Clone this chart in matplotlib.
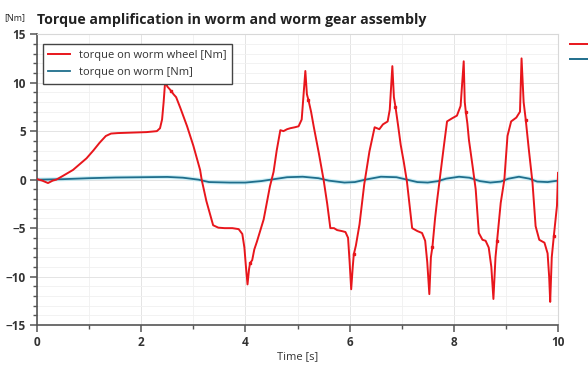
import matplotlib.pyplot as plt
from matplotlib.lines import Line2D
from matplotlib.ticker import MultipleLocator
import numpy as np

# torque on worm wheel [Nm]
t_wheel = [0.00, 0.10, 0.21, 0.30, 0.37, 0.50, 0.69, 0.82, 0.95, 1.08, 1.20, 1.32, 1.42, 1.55,
           1.80, 2.10, 2.30, 2.36, 2.40, 2.43, 2.46, 2.50, 2.55, 2.58, 2.62, 2.67, 2.75, 2.88,
           3.00, 3.13, 3.16, 3.25, 3.38, 3.48, 3.60, 3.75, 3.87, 3.94, 3.98, 4.01, 4.04, 4.07,
           4.09, 4.13, 4.17, 4.22, 4.35, 4.47, 4.54, 4.60, 4.67, 4.73, 4.80, 4.86, 4.95, 5.02,
           5.08, 5.12, 5.15, 5.18, 5.21, 5.26, 5.31, 5.41, 5.50, 5.57, 5.63, 5.70, 5.76, 5.85,
           5.92, 5.97, 6.00, 6.03, 6.06, 6.08, 6.12, 6.19, 6.28, 6.38, 6.48, 6.57, 6.64, 6.73,
           6.77, 6.82, 6.85, 6.88, 6.93, 6.98, 7.04, 7.10, 7.20, 7.30, 7.39, 7.45, 7.49, 7.53,
           7.56, 7.59, 7.64, 7.68, 7.74, 7.81, 7.87, 7.96, 8.06, 8.13, 8.19, 8.21, 8.23, 8.26,
           8.29, 8.36, 8.42, 8.48, 8.55, 8.61, 8.67, 8.72, 8.76, 8.80, 8.83, 8.90, 8.97, 9.03,
           9.10, 9.20, 9.27, 9.30, 9.34, 9.38, 9.44, 9.51, 9.57, 9.64, 9.74, 9.80, 9.83, 9.85,
           9.88, 9.92, 9.98, 10.00]
tq_wheel = [0.05, -0.1, -0.35, -0.1, 0.0, 0.4, 1.0, 1.6, 2.2, 3.0, 3.8, 4.5, 4.75, 4.8,
            4.85, 4.9, 5.0, 5.3, 6.2, 8.0, 10.2, 9.6, 9.3, 9.1, 8.8, 8.5, 7.4, 5.5,
            3.5, 1.0, 0.0, -2.2, -4.7, -4.95, -5.0, -5.0, -5.1, -5.6, -7.0, -9.0, -10.8, -9.2,
            -8.6, -8.3, -7.2, -6.4, -4.1, -0.7, 0.8, 3.0, 5.1, 5.0, 5.2, 5.3, 5.4, 5.5,
            6.2, 9.0, 11.2, 8.8, 8.2, 7.0, 5.5, 2.7, 0.0, -2.5, -5.0, -5.0, -5.2, -5.3,
            -5.4, -6.0, -8.5, -11.3, -9.0, -7.7, -6.8, -4.6, -0.5, 2.9, 5.4, 5.2, 5.7, 6.0,
            7.2, 11.7, 8.5, 7.5, 5.6, 3.6, 1.8, -0.2, -5.0, -5.3, -5.5, -6.3, -8.5, -11.8,
            -8.0, -6.9, -4.0, -2.1, 0.5, 3.5, 6.0, 6.3, 6.6, 7.6, 12.2, 8.0, 7.0, 5.8,
            4.1, 1.4, -1.0, -5.5, -6.2, -6.3, -7.0, -9.0, -12.3, -8.0, -6.3, -2.4, 0.0, 4.5,
            6.0, 6.4, 7.0, 12.5, 8.0, 6.2, 3.1, -0.3, -4.8, -6.2, -6.5, -7.6, -10.0, -12.6,
            -8.0, -5.8, -2.7, 0.7]

# points sitting just after each spike
t_knee = [2.58, 4.09, 5.21, 6.08, 6.88, 7.59, 8.23, 8.83, 9.38, 9.92]
tq_knee = [9.1, -8.6, 8.2, -7.7, 7.5, -6.9, 7.0, -6.3, 6.2, -5.8]

# torque on worm [Nm]
t_worm = [0.0, 0.5, 1.0, 1.5, 2.0, 2.5, 2.8, 3.1, 3.3, 3.7, 4.0, 4.3, 4.55, 4.8, 5.1, 5.4,
          5.6, 5.9, 6.1, 6.3, 6.6, 6.9, 7.1, 7.3, 7.5, 7.7, 7.85, 8.1, 8.3, 8.5, 8.7, 8.9,
          9.05, 9.25, 9.45, 9.6, 9.8, 10.0]
tq_worm = [0.0, 0.05, 0.15, 0.22, 0.25, 0.28, 0.2, 0.0, -0.25, -0.3, -0.3, -0.15, 0.05, 0.25,
           0.3, 0.15, -0.1, -0.3, -0.25, 0.0, 0.3, 0.25, 0.0, -0.25, -0.3, -0.15, 0.1, 0.3,
           0.2, -0.15, -0.3, -0.2, 0.1, 0.3, 0.1, -0.2, -0.25, -0.1]

red = '#e8161c'
blue = '#1f6e8c'

plt.rcParams['font.family'] = ['Open Sans', 'DejaVu Sans']

fig = plt.figure(figsize=(5.88, 3.67), dpi=100)
ax = fig.add_axes([0.063, 0.114, 0.886, 0.793])

ax.plot(t_worm, tq_worm, color='#9fe3f0', lw=3.0, alpha=0.5, zorder=2)
ax.plot(t_worm, tq_worm, color=blue, lw=1.3, zorder=3, label='torque on worm [Nm]')
ax.plot(t_wheel, tq_wheel, color=red, lw=1.4, zorder=4, label='torque on worm wheel [Nm]')
ax.plot(t_knee, tq_knee, 's', color=red, ms=1.8, zorder=4)

ax.set_xlim(0, 10)
ax.set_ylim(-15, 15)
ax.xaxis.set_major_locator(MultipleLocator(2))
ax.xaxis.set_minor_locator(MultipleLocator(1))
ax.yaxis.set_major_locator(MultipleLocator(5))
ax.yaxis.set_minor_locator(MultipleLocator(1))
ax.grid(which='major', color='#e4e4e4', lw=0.7)
ax.grid(which='minor', color='#f0f0f0', lw=0.6)
ax.set_axisbelow(True)

for s in ['top', 'right']:
    ax.spines[s].set_color('#d8d8d8')
for s in ['left', 'bottom']:
    ax.spines[s].set_color('#555555')
    ax.spines[s].set_linewidth(1.2)
ax.tick_params(which='major', length=5, width=1.1, color='#555555', labelsize=8.5, pad=3)
ax.tick_params(which='minor', length=3, width=1.0, color='#555555')
for lab in ax.get_xticklabels() + ax.get_yticklabels():
    lab.set_fontweight('bold')
    lab.set_color('#333333')

ax.set_xlabel('Time [s]', fontsize=8, color='#333333', labelpad=1)

h, l = ax.get_legend_handles_labels()
leg = ax.legend(h[::-1], l[::-1], loc='upper left', bbox_to_anchor=(0.0, 0.985), fontsize=8,
                frameon=True, fancybox=False, framealpha=1, edgecolor='#444444',
                handlelength=2.0, borderpad=0.5, labelspacing=0.6)
leg.get_frame().set_linewidth(1.0)
leg.set_zorder(10)
for txt in leg.get_texts():
    txt.set_color('#333333')

fig.text(0.063, 0.935, 'Torque amplification in worm and worm gear assembly',
         fontsize=10.2, fontweight='bold', color='#222222', va='baseline')
fig.text(0.008, 0.945, '[Nm]', fontsize=6.5, color='#222222', va='baseline')

# legend stubs to the right of the plot
fig.add_artist(Line2D([0.970, 1.0], [0.880, 0.880], color=red, lw=1.4))
fig.add_artist(Line2D([0.970, 1.0], [0.840, 0.840], color=blue, lw=1.4))

plt.savefig('out.png', dpi=100)
